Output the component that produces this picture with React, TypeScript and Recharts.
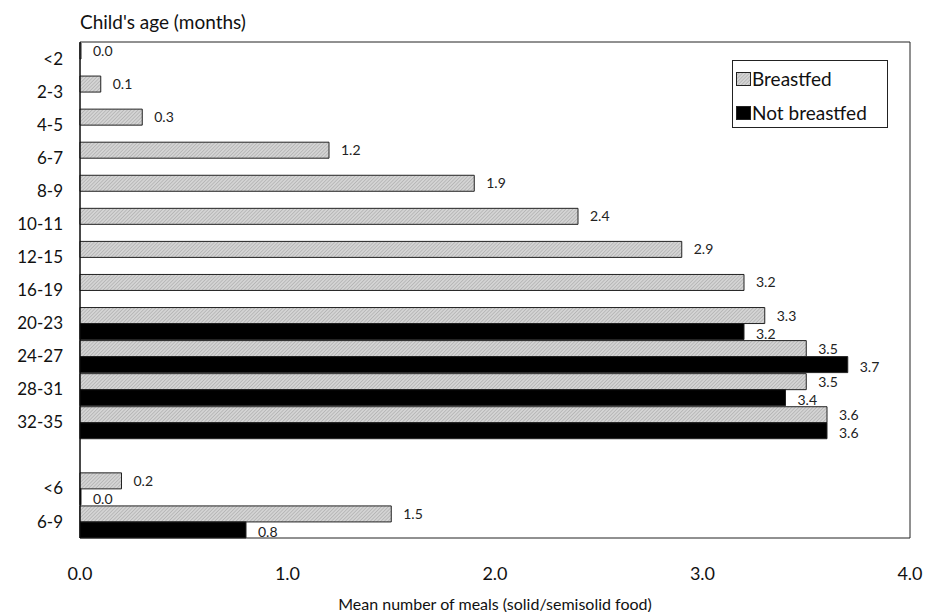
import React from 'react';
import { BarChart, Bar, XAxis, YAxis, LabelList, ReferenceArea } from 'recharts';

// child's age groups (blank entry = spacer row between the two blocks)
const ageGroups = ['<2', '2-3', '4-5', '6-7', '8-9', '10-11', '12-15', '16-19', '20-23', '24-27', '28-31', '32-35', '', '<6', '6-9'];
const breastfed = [0.0, 0.1, 0.3, 1.2, 1.9, 2.4, 2.9, 3.2, 3.3, 3.5, 3.5, 3.6, null, 0.2, 1.5];
const notBreastfed = [null, null, null, null, null, null, null, null, 3.2, 3.7, 3.4, 3.6, null, 0.0, 0.8];
const xTicks = [0, 1, 2, 3, 4];

const data = ageGroups.map((age, i) => ({
  age,
  breastfed: breastfed[i],
  notBreastfed: notBreastfed[i],
}));

const FONT = 'Lato, "Open Sans", sans-serif';

const fmt = (v: any) => (v === null || v === undefined ? '' : Number(v).toFixed(1));
// zero values still get a hairline bar, like the original
const minSize = (v: any) => (v === 0 ? 1 : 0);

const Hatch = ({ id }: { id: string }) => (
  <pattern id={id} width="2.5" height="2.5" patternUnits="userSpaceOnUse" patternTransform="rotate(45)">
    <rect width="2.5" height="2.5" fill="#d4d4d4" />
    <line x1="0" y1="0" x2="0" y2="2.5" stroke="#9a9a9a" strokeWidth="0.9" />
  </pattern>
);

const App: React.FC = () => {
  return (
    <div style={{ position: 'absolute', left: 0, top: 0, width: 929, height: 612, fontFamily: FONT }}>
      <div style={{ position: 'absolute', left: 80, top: 10, fontSize: 19, lineHeight: '24px', color: '#111' }}>
        Child's age (months)
      </div>
      <BarChart
        width={929}
        height={612}
        data={data}
        layout="vertical"
        margin={{ top: 42, right: 19, bottom: 0, left: 10 }}
        barCategoryGap={1}
        barGap={0}
      >
        <defs>
          <Hatch id="hatch" />
        </defs>
        <XAxis
          type="number"
          domain={[0, 4]}
          ticks={xTicks}
          tickFormatter={(v) => Number(v).toFixed(1)}
          tickLine={false}
          axisLine={false}
          tickSize={0}
          tickMargin={29}
          height={74}
          tick={{ fontSize: 18, fill: '#111', fontFamily: FONT }}
          label={{ value: 'Mean number of meals (solid/semisolid food)', position: 'insideBottom', offset: 2, fontSize: 16, fill: '#111', fontFamily: FONT }}
        />
        <YAxis
          type="category"
          dataKey="age"
          width={70}
          interval={0}
          tickLine={false}
          tickSize={0}
          tickMargin={17}
          axisLine={{ stroke: '#000' }}
          tick={{ fontSize: 17, fill: '#111', fontFamily: FONT }}
        />
        <ReferenceArea x1={0} x2={4} fill="none" stroke="#222" strokeWidth={1} />
        <Bar dataKey="breastfed" name="Breastfed" fill="url(#hatch)" stroke="#222" strokeWidth={1} minPointSize={minSize} isAnimationActive={false}>
          <LabelList dataKey="breastfed" position="right" offset={12} formatter={fmt} fontSize={14} fill="#222" fontFamily={FONT} dy={0} />
        </Bar>
        <Bar dataKey="notBreastfed" name="Not breastfed" fill="#000" stroke="#222" strokeWidth={1} minPointSize={minSize} isAnimationActive={false}>
          <LabelList dataKey="notBreastfed" position="right" offset={12} formatter={fmt} fontSize={14} fill="#222" fontFamily={FONT} dy={2} />
        </Bar>
      </BarChart>
      <div
        style={{
          position: 'absolute',
          left: 732,
          top: 60,
          width: 156,
          height: 68,
          border: '1px solid #222',
          boxSizing: 'border-box',
          fontSize: 19,
          color: '#111',
          padding: '4px 0 0 3px',
        }}
      >
        <div style={{ display: 'flex', alignItems: 'center', height: 27, whiteSpace: 'nowrap' }}>
          <svg width={15} height={14} style={{ marginRight: 1, flex: 'none' }}>
            <defs>
              <Hatch id="hatch-legend" />
            </defs>
            <rect x={0.5} y={0.5} width={14} height={13} fill="url(#hatch-legend)" stroke="#222" />
          </svg>
          Breastfed
        </div>
        <div style={{ display: 'flex', alignItems: 'center', height: 27, marginTop: 7, whiteSpace: 'nowrap' }}>
          <svg width={15} height={14} style={{ marginRight: 1, flex: 'none' }}>
            <rect x={0.5} y={0.5} width={14} height={13} fill="#000" stroke="#222" />
          </svg>
          Not breastfed
        </div>
      </div>
    </div>
  );
};

export default App;
